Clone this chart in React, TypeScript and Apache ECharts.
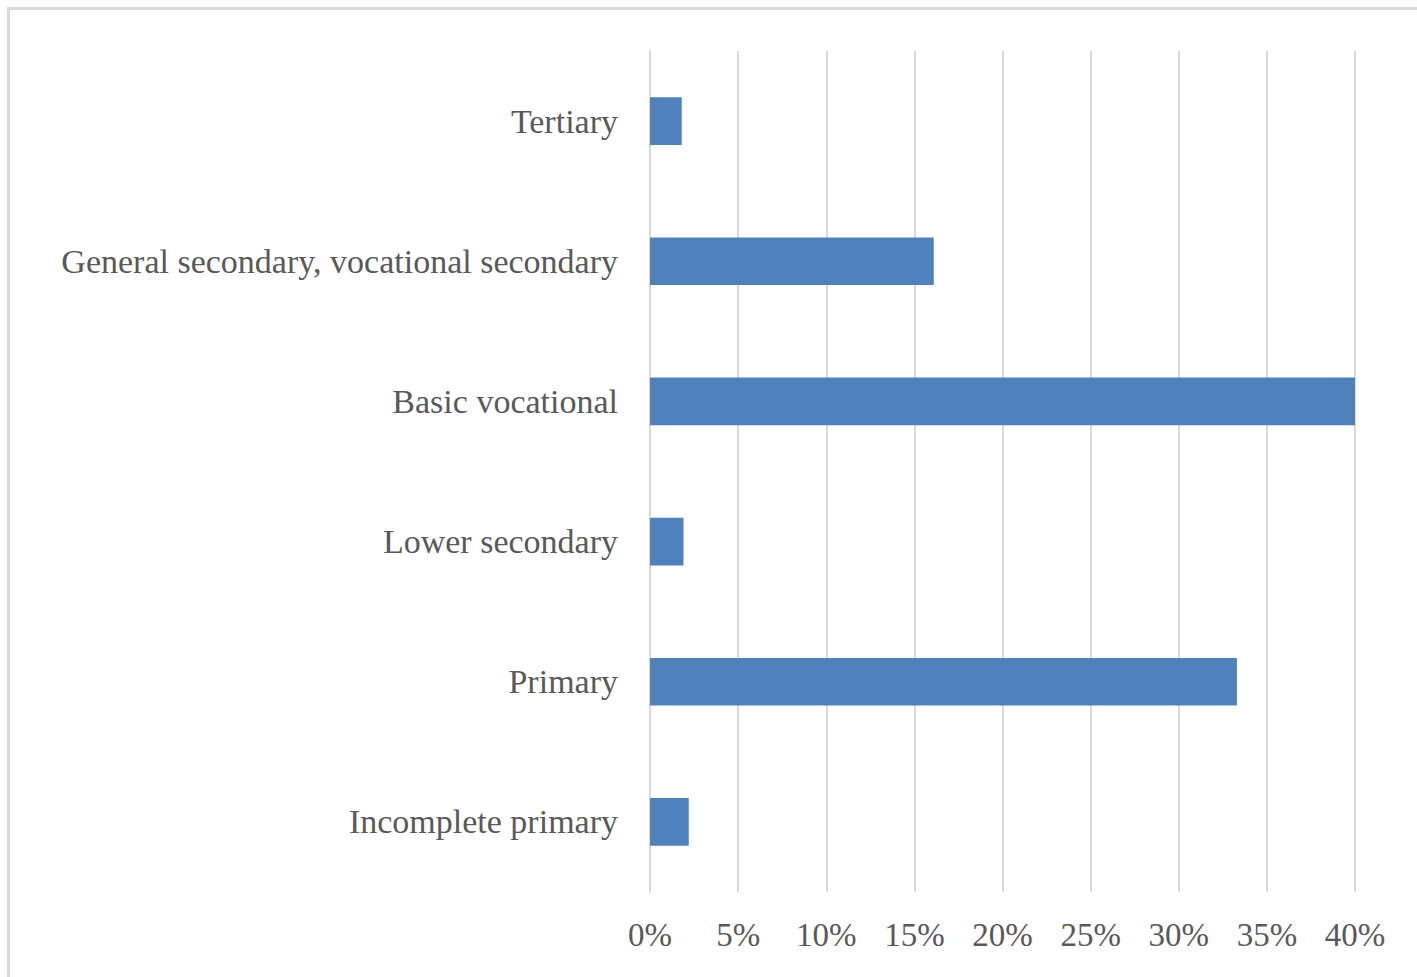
import React, { useEffect, useRef } from "react";
import * as echarts from "echarts";

const categories = [
  "Incomplete primary",
  "Primary",
  "Lower secondary",
  "Basic vocational",
  "General secondary, vocational secondary",
  "Tertiary",
];
const values = [2.2, 33.3, 1.9, 40.0, 16.1, 1.8];
const xMin = 0;
const xMax = 40;
const xInterval = 5;

export default function App() {
  const ref = useRef<HTMLDivElement>(null);
  useEffect(() => {
    if (!ref.current) return;
    const chart = echarts.init(ref.current, null, { renderer: "svg" });
    const font = "'Liberation Serif', 'Times New Roman', serif";
    chart.setOption({
      animation: false,
      backgroundColor: "#ffffff",
      graphic: [
        {
          type: "rect",
          shape: { x: 8.5, y: 8.5, width: 1500, height: 1100 },
          style: { fill: "none", stroke: "#d9d9d9", lineWidth: 3 },
          silent: true,
        },
      ],
      grid: { left: 650, right: 62, top: 51, bottom: 85, containLabel: false },
      xAxis: {
        type: "value",
        min: xMin,
        max: xMax,
        interval: xInterval,
        axisLine: { show: false },
        axisTick: { show: false },
        splitLine: { show: true, lineStyle: { color: "#d9d9d9", width: 2 } },
        axisLabel: {
          formatter: "{value}%",
          color: "#595959",
          fontFamily: font,
          fontSize: 33,
          margin: 26,
        },
      },
      yAxis: {
        type: "category",
        data: categories,
        axisLine: { show: true, lineStyle: { color: "#d9d9d9", width: 2 } },
        axisTick: { show: false },
        axisLabel: {
          color: "#595959",
          fontFamily: font,
          fontSize: 34,
          margin: 32,
        },
      },
      series: [
        {
          type: "bar",
          data: values,
          barWidth: "34%",
          itemStyle: { color: "#4f81bd" },
        },
      ],
    });
    return () => chart.dispose();
  }, []);
  return (
    <div
      ref={ref}
      style={{ position: "absolute", left: 0, top: 0, width: 1417, height: 977 }}
    />
  );
}
